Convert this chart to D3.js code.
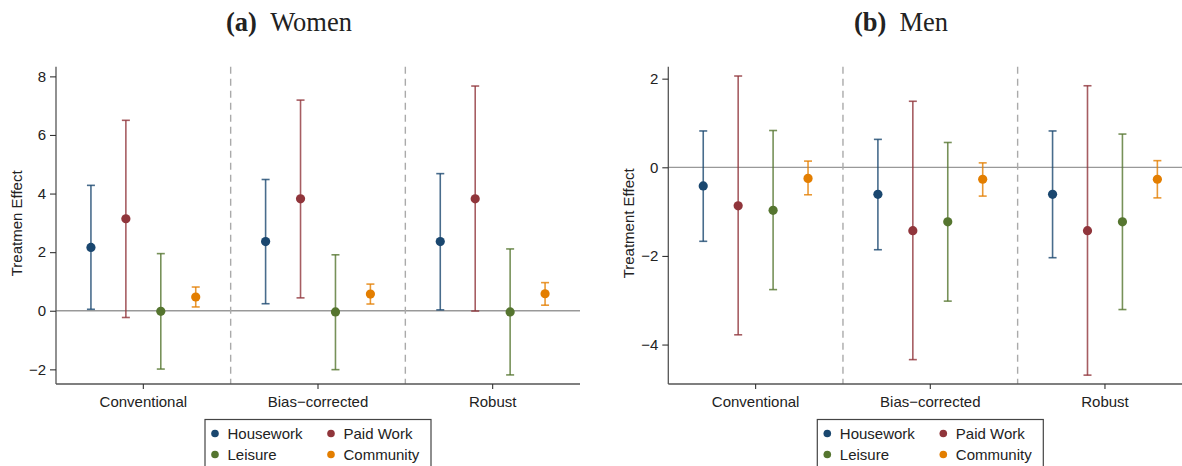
<!DOCTYPE html>
<html>
<head>
<meta charset="utf-8">
<script src="https://cdn.jsdelivr.net/npm/d3@7"></script>
<style>
  body { margin: 0; background: #fff; }
  svg { display: block; }
  text { font-family: "Liberation Sans", Arial, sans-serif; fill: #222; }
</style>
</head>
<body>
<div id="chart"></div>
<script>
// datos
var methods = ["Conventional", "Bias\u2212corrected", "Robust"];
var series = ["Housework", "Paid Work", "Leisure", "Community"];
var colors = ["#1a476f", "#90353b", "#55752f", "#e37e00"];

// mujeres: una fila por serie, una columna por método
var womenEst = [[2.16, 2.36, 2.36], [3.14, 3.82, 3.82], [-0.02, -0.04, -0.04], [0.47, 0.57, 0.58]];
var womenLo  = [[0.05, 0.24, 0.03], [-0.23, 0.44, -0.01], [-1.99, -2.01, -2.19], [0.13, 0.23, 0.19]];
var womenHi  = [[4.28, 4.48, 4.68], [6.50, 7.19, 7.67], [1.95, 1.91, 2.11], [0.81, 0.91, 0.96]];
var womenTicks = [-2, 0, 2, 4, 6, 8];

// hombres
var menEst = [[-0.42, -0.61, -0.61], [-0.87, -1.43, -1.43], [-0.97, -1.23, -1.23], [-0.25, -0.27, -0.27]];
var menLo  = [[-1.67, -1.86, -2.04], [-3.78, -4.34, -4.69], [-2.76, -3.02, -3.21], [-0.62, -0.65, -0.69]];
var menHi  = [[0.82, 0.63, 0.82], [2.06, 1.49, 1.84], [0.83, 0.56, 0.75], [0.14, 0.10, 0.15]];
var menTicks = [-4, -2, 0, 2];

var width = 1182, height = 466;
var svg = d3.select("#chart").append("svg")
    .attr("width", width)
    .attr("height", height);

function fmt(v) { return v < 0 ? "\u2212" + Math.abs(v) : String(v); }

// Función para dibujar un panel
function drawPanel(opt) {
    var g = svg.append("g");
    var top = 66.7, bottom = 384;

    var x = d3.scaleBand().domain(methods).range([opt.left, opt.right]).paddingInner(0).paddingOuter(0);
    var bw = x.bandwidth();
    var off = d3.scalePoint().domain(series).range([-0.3 * bw, 0.3 * bw]);
    var y = d3.scaleLinear().domain(opt.domain).range([bottom, top]);

    // título
    var t = svg.append("text")
        .attr("x", opt.titleX).attr("y", 31)
        .attr("text-anchor", "middle")
        .style("font-family", "'Liberation Serif', 'Times New Roman', serif")
        .style("font-size", "26.5px");
    t.append("tspan").style("font-weight", "bold").text(opt.tag);
    t.append("tspan").text("\u00a0\u00a0" + opt.title);

    // línea del cero
    g.append("line")
        .attr("x1", opt.left).attr("x2", opt.right)
        .attr("y1", y(0)).attr("y2", y(0))
        .attr("stroke", "#999").attr("stroke-width", 1.3);

    // separadores discontinuos
    methods.slice(1).forEach(function (m) {
        g.append("line")
            .attr("x1", x(m)).attr("x2", x(m))
            .attr("y1", top).attr("y2", bottom)
            .attr("stroke", "#aaa").attr("stroke-width", 1.4)
            .attr("stroke-dasharray", "7,5");
    });

    // ejes
    var yAxis = d3.axisLeft(y).tickValues(opt.ticks).tickSize(6).tickPadding(4).tickFormat(fmt);
    var ya = g.append("g").attr("transform", "translate(" + opt.left + ",0)").call(yAxis);
    ya.select(".domain").attr("d", "M0," + top + "V" + bottom);

    var xAxis = d3.axisBottom(x).tickSize(5).tickPadding(4);
    var xa = g.append("g").attr("transform", "translate(0," + bottom + ")").call(xAxis);
    xa.select(".domain").attr("d", "M" + opt.left + ",0H" + opt.right);

    [ya, xa].forEach(function (a) {
        a.select(".domain").attr("stroke", "#555").attr("stroke-width", 1.3);
        a.selectAll(".tick line").attr("stroke", "#333").attr("stroke-width", 1.1);
        a.selectAll(".tick text").style("font-size", "15px").attr("fill", "#222")
            .style("font-family", "'Liberation Sans', Arial, sans-serif");
    });
    xa.selectAll(".tick text").attr("dy", "0.95em");

    // etiqueta del eje y
    g.append("text")
        .attr("transform", "translate(" + opt.labelX + "," + ((top + bottom) / 2 - 2) + ") rotate(-90)")
        .attr("text-anchor", "middle")
        .style("font-size", "15px")
        .text(opt.ylabel);

    // intervalos y puntos
    series.forEach(function (s, i) {
        methods.forEach(function (m, j) {
            var cx = x(m) + bw / 2 + off(s);
            var lo = opt.lo[i][j], hi = opt.hi[i][j], est = opt.est[i][j];
            var ci = g.append("g").attr("stroke", colors[i]).attr("stroke-opacity", 0.8).attr("stroke-width", 1.6);
            ci.append("line").attr("x1", cx).attr("x2", cx).attr("y1", y(lo)).attr("y2", y(hi));
            ci.append("line").attr("x1", cx - 4).attr("x2", cx + 4).attr("y1", y(lo)).attr("y2", y(lo));
            ci.append("line").attr("x1", cx - 4).attr("x2", cx + 4).attr("y1", y(hi)).attr("y2", y(hi));
            g.append("circle").attr("cx", cx).attr("cy", y(est)).attr("r", 4.6).attr("fill", colors[i]);
        });
    });

    // leyenda
    var lg = svg.append("g").attr("transform", "translate(" + opt.legendX + ",419.5)");
    lg.append("rect").attr("width", 226).attr("height", 60)
        .attr("fill", "#fff").attr("stroke", "#444").attr("stroke-width", 1.2);
    series.forEach(function (s, i) {
        var cx = (i % 2) * 116 + 10, cy = i < 2 ? 14 : 35;
        lg.append("circle").attr("cx", cx).attr("cy", cy).attr("r", 3.8).attr("fill", colors[i]);
        lg.append("text").attr("x", cx + 12.5).attr("y", cy + 5.3)
            .style("font-size", "15px").text(s);
    });
}

drawPanel({
    left: 56, right: 580, domain: [-2.5, 8.33], ticks: womenTicks,
    est: womenEst, lo: womenLo, hi: womenHi,
    tag: "(a)", title: "Women", titleX: 289,
    ylabel: "Treatmen Effect", labelX: 22, legendX: 205
});

drawPanel({
    left: 668.3, right: 1192.3, domain: [-4.89, 2.27], ticks: menTicks,
    est: menEst, lo: menLo, hi: menHi,
    tag: "(b)", title: "Men", titleX: 901,
    ylabel: "Treatment Effect", labelX: 634, legendX: 817.3
});
</script>
</body>
</html>
